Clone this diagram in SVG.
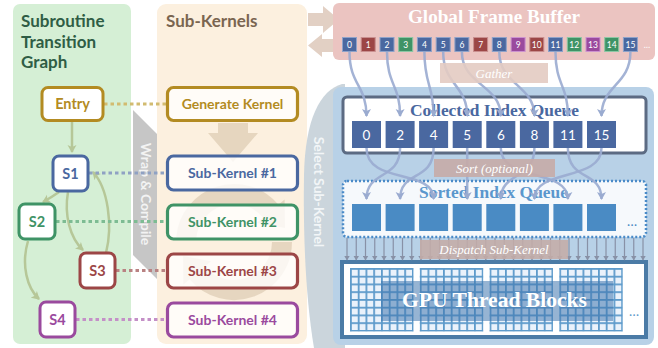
<svg xmlns="http://www.w3.org/2000/svg" width="658" height="348" viewBox="0 0 658 348">
  <defs>
    <style>
      .sans { font-family: Lato, "Open Sans", "Liberation Sans", sans-serif; font-weight: bold; }
      .serif { font-family: "Liberation Serif", "DejaVu Serif", serif; font-weight: bold; }
      .ital { font-family: "Liberation Serif", "DejaVu Serif", serif; font-style: italic; fill: #ffffff; font-size: 13px; text-anchor: middle; }
      .node rect { fill: #ffffff; stroke-width: 3; }
      .node text { font-size: 14.5px; text-anchor: middle; }
      .kern rect { fill: #ffffff; fill-opacity: 0.78; stroke-width: 3.2; }
      .kern text { font-size: 14px; text-anchor: middle; }
      .blue rect { stroke: #4a68a0; } .blue text { fill: #4a68a0; }
      .green rect { stroke: #3f9366; } .green text { fill: #3f9366; }
      .red rect { stroke: #9c4646; } .red text { fill: #9c4646; }
      .purple rect { stroke: #9a4a9e; } .purple text { fill: #9a4a9e; }
      .gold rect { stroke: #b38b22; } .gold text { fill: #b38b22; }
      .edge { fill: none; stroke: #b6c798; stroke-width: 2.5; marker-end: url(#ahG); }
      .dot { stroke-width: 3; stroke-dasharray: 3.5 3; fill: none; }
      .fb rect { stroke-width: 1; }
      .fb text { font-family: Lato, "Liberation Sans", sans-serif; font-size: 8.5px; fill: #ffffff; text-anchor: middle; }
      .fbB { fill: #4a68a0; stroke: #8ea2c9; }
      .fbR { fill: #9c4646; stroke: #c98f8f; }
      .fbG { fill: #3f9366; stroke: #8cc7a4; }
      .fbP { fill: #9a4a9e; stroke: #cc92cf; }
      .cq rect { fill: #4a68a0; }
      .cq text { font-family: Lato, "Liberation Sans", sans-serif; font-size: 13.5px; fill: #ffffff; text-anchor: middle; }
      .sq rect { fill: #4a8bc4; }
      .gat { fill: none; stroke: #9aabd0; stroke-width: 2.5; stroke-opacity: 0.9; marker-end: url(#ahB); }
      .disp { stroke: #8891a6; stroke-width: 1.2; marker-end: url(#ahD); }
    </style>
    <marker id="ahG" markerUnits="userSpaceOnUse" markerWidth="10" markerHeight="10" refX="7" refY="5" orient="auto">
      <path d="M0,0.5 L8,5 L0,9.5 L2,5 Z" fill="#b6c798"/>
    </marker>
    <marker id="ahB" markerUnits="userSpaceOnUse" markerWidth="10" markerHeight="10" refX="7" refY="5" orient="auto">
      <path d="M0,0.5 L8,5 L0,9.5 L2,5 Z" fill="#9aabd0"/>
    </marker>
    <marker id="ahD" markerUnits="userSpaceOnUse" markerWidth="6" markerHeight="6" refX="4.5" refY="3" orient="auto">
      <path d="M0,0 L5,3 L0,6 Z" fill="#8891a6"/>
    </marker>
    <pattern id="grid" patternUnits="userSpaceOnUse" x="350" y="268" width="7.75" height="7.75">
      <rect width="7.75" height="7.75" fill="#5e9bcb"/>
      <rect x="1.8" y="1.8" width="5.95" height="5.95" fill="#eaf2fb"/>
    </pattern>
  </defs>

  <!-- background panels -->
  <rect x="13" y="4" width="118" height="340" rx="7" fill="#d5efd5"/>
  <g id="wrap-compile">
    <polygon points="133,110 165,142 197,110 197,255 165,287 133,255" fill="#c6c6c6"/>
    <text class="sans" transform="translate(141,194) rotate(90)" text-anchor="middle" font-size="14" fill="#f3f3f3">Wrap &amp; Compile</text>
  </g>
  <rect x="157" y="4" width="150" height="340" rx="9" fill="#fcf0df"/>
  <g id="select-sub-kernel">
    <path d="M342,84 C320,90 305,120 304,175 C303,240 306,300 314,348 L345,348 L345,84 Z" fill="#cbd5dc"/>
    <text class="sans" transform="translate(314,192) rotate(90)" text-anchor="middle" font-size="14" fill="#f2f5f7">Select Sub-Kernel</text>
  </g>

  <!-- panel titles -->
  <text class="sans" x="21" y="27" font-size="17" fill="#2f5d45">Subroutine</text>
  <text class="sans" x="21" y="48" font-size="17" fill="#2f5d45">Transition</text>
  <text class="sans" x="21" y="68" font-size="17" fill="#2f5d45">Graph</text>
  <text class="sans" x="166" y="27" font-size="17" fill="#7a6550">Sub-Kernels</text>

  <!-- transfer arrows to and from the frame buffer -->
  <polygon points="308,13 323,13 323,6 339,19.5 323,33 323,26 308,26" fill="#e2d0c4"/>
  <polygon points="308,45.5 322,34 322,39 336,39 336,52 322,52 322,57" fill="#e2d0c4"/>

  <!-- kernel generation and cycling -->
  <polygon points="218,123 248,123 248,133 258,133 233,162 208,133 218,133" fill="#e6d6bf"/>
  <g id="cycle" fill="#e3d3bc" fill-opacity="0.9">
    <path d="M186.2,237.8 A48,48 0 0 1 270.8,211.2" fill="none" stroke="#e3d3bc" stroke-opacity="0.9" stroke-width="20"/>
    <polygon points="284.6,199.6 285,228.1 257,222.8"/>
    <path d="M282,242 A48,48 0 0 1 197.2,272.9" fill="none" stroke="#e3d3bc" stroke-opacity="0.9" stroke-width="20"/>
    <polygon points="183.4,284.5 183.1,256 211,261.3"/>
  </g>

  <!-- global frame buffer -->
  <g id="frame-buffer">
    <rect x="333" y="3" width="322" height="57" rx="6" fill="#ebc4c1"/>
    <text class="serif" x="494" y="23" font-size="18" fill="#ffffff" text-anchor="middle" textLength="172" lengthAdjust="spacingAndGlyphs">Global Frame Buffer</text>
    <g class="fb">
      <rect class="fbB" x="342.5" y="37.5" width="14" height="14"/><text x="349.5" y="48">0</text>
      <rect class="fbR" x="361.2" y="37.5" width="14" height="14"/><text x="368.2" y="48">1</text>
      <rect class="fbB" x="380" y="37.5" width="14" height="14"/><text x="387" y="48">2</text>
      <rect class="fbG" x="398.7" y="37.5" width="14" height="14"/><text x="405.7" y="48">3</text>
      <rect class="fbB" x="417.4" y="37.5" width="14" height="14"/><text x="424.4" y="48">4</text>
      <rect class="fbB" x="436.2" y="37.5" width="14" height="14"/><text x="443.2" y="48">5</text>
      <rect class="fbB" x="454.9" y="37.5" width="14" height="14"/><text x="461.9" y="48">6</text>
      <rect class="fbR" x="473.6" y="37.5" width="14" height="14"/><text x="480.6" y="48">7</text>
      <rect class="fbB" x="492.3" y="37.5" width="14" height="14"/><text x="499.3" y="48">8</text>
      <rect class="fbP" x="511.1" y="37.5" width="14" height="14"/><text x="518.1" y="48">9</text>
      <rect class="fbR" x="529.8" y="37.5" width="14" height="14"/><text x="536.8" y="48">10</text>
      <rect class="fbB" x="548.5" y="37.5" width="14" height="14"/><text x="555.5" y="48">11</text>
      <rect class="fbG" x="567.3" y="37.5" width="14" height="14"/><text x="574.3" y="48">12</text>
      <rect class="fbP" x="586" y="37.5" width="14" height="14"/><text x="593" y="48">13</text>
      <rect class="fbG" x="604.7" y="37.5" width="14" height="14"/><text x="611.7" y="48">14</text>
      <rect class="fbB" x="623.4" y="37.5" width="14" height="14"/><text x="630.4" y="48">15</text>
      <text x="647" y="48" font-size="11">…</text>
    </g>
  </g>

  <!-- execution panel -->
  <rect x="333" y="87" width="321" height="258" rx="8" fill="#b8d1e7"/>

  <g id="collected-queue">
    <rect x="343" y="97" width="303" height="56" rx="4" fill="#ffffff" stroke="#5c6b83" stroke-width="3"/>
    <text class="serif" x="494.5" y="116" font-size="16" fill="#4a68a0" text-anchor="middle" textLength="169" lengthAdjust="spacingAndGlyphs">Collected Index Queue</text>
    <g class="cq">
      <rect x="352" y="121" width="29" height="27"/><text x="366.5" y="139.5">0</text>
      <rect x="385.6" y="121" width="29" height="27"/><text x="400.1" y="139.5">2</text>
      <rect x="419.1" y="121" width="29" height="27"/><text x="433.6" y="139.5">4</text>
      <rect x="452.7" y="121" width="29" height="27"/><text x="467.2" y="139.5">5</text>
      <rect x="486.3" y="121" width="29" height="27"/><text x="500.8" y="139.5">6</text>
      <rect x="519.9" y="121" width="29" height="27"/><text x="534.4" y="139.5">8</text>
      <rect x="553.4" y="121" width="29" height="27"/><text x="567.9" y="139.5">11</text>
      <rect x="587" y="121" width="29" height="27"/><text x="601.5" y="139.5">15</text>
      <text x="632" y="143" fill="#4a68a0">…</text>
    </g>
  </g>

  <g id="sorted-queue">
    <rect x="343" y="181" width="303" height="56" rx="4" fill="#f6f9fc" stroke="#4a8bc8" stroke-width="2.5" stroke-dasharray="2 2"/>
    <text class="serif" x="493.5" y="198" font-size="16" fill="#5b97cd" text-anchor="middle" textLength="149" lengthAdjust="spacingAndGlyphs">Sorted Index Queue</text>
    <g class="sq">
      <rect x="352" y="204" width="29" height="27"/>
      <rect x="385.6" y="204" width="29" height="27"/>
      <rect x="419.1" y="204" width="29" height="27"/>
      <rect x="452.7" y="204" width="29" height="27"/>
      <rect x="486.3" y="204" width="29" height="27"/>
      <rect x="519.9" y="204" width="29" height="27"/>
      <rect x="553.4" y="204" width="29" height="27"/>
      <rect x="587" y="204" width="29" height="27"/>
    </g>
    <text x="632" y="226" font-family="Lato, 'Liberation Sans', sans-serif" font-size="13.5" fill="#4a8bc4" text-anchor="middle">…</text>
  </g>

  <g id="thread-blocks">
    <rect x="342" y="262" width="304" height="75" fill="#ffffff" stroke="#4b7ba6" stroke-width="4"/>
    <rect x="350" y="268" width="63.5" height="63.5" fill="url(#grid)"/>
    <rect x="419.75" y="268" width="63.5" height="63.5" fill="url(#grid)"/>
    <rect x="489.5" y="268" width="63.5" height="63.5" fill="url(#grid)"/>
    <rect x="559.25" y="268" width="63.5" height="63.5" fill="url(#grid)"/>
    <rect x="381" y="281" width="232" height="40" fill="#3f77ae" fill-opacity="0.55"/>
    <text class="serif" x="494.5" y="307" font-size="22" fill="#ffffff" text-anchor="middle" textLength="185" lengthAdjust="spacingAndGlyphs">GPU Thread Blocks</text>
    <text x="634" y="316" font-family="Lato, 'Liberation Sans', sans-serif" font-size="13.5" fill="#5e9bcb" text-anchor="middle">…</text>
  </g>

  <!-- connectors -->
  <g id="connectors">
    <!-- gather from the frame buffer -->
    <path class="gat" d="M349.5,52 C349.5,85 366.5,85 366.5,116"/>
    <path class="gat" d="M387,52 C387,85 400.1,85 400.1,116"/>
    <path class="gat" d="M424.4,52 C424.4,85 433.6,85 433.6,116"/>
    <path class="gat" d="M443.2,52 C443.2,85 467.2,85 467.2,116"/>
    <path class="gat" d="M461.9,52 C461.9,85 500.8,85 500.8,116"/>
    <path class="gat" d="M499.3,52 C499.3,85 534.4,85 534.4,116"/>
    <path class="gat" d="M555.5,52 C555.5,85 567.9,85 567.9,116"/>
    <path class="gat" d="M630.4,52 C630.4,85 601.5,85 601.5,116"/>
    <!-- sort into the second queue -->
    <path class="gat" d="M366.5,148 C366.5,185 433.6,168 433.6,199"/>
    <path class="gat" d="M400.1,148 C400.1,180 366.5,170 366.5,199"/>
    <path class="gat" d="M433.6,148 C433.6,182 400.1,170 400.1,199"/>
    <path class="gat" d="M467.2,148 C467.2,180 467.2,172 467.2,199"/>
    <path class="gat" d="M500.8,148 C500.8,182 567.9,168 567.9,199"/>
    <path class="gat" d="M534.4,148 C534.4,180 500.8,172 500.8,199"/>
    <path class="gat" d="M567.9,148 C567.9,182 601.5,170 601.5,199"/>
    <path class="gat" d="M601.5,148 C601.5,182 534.4,168 534.4,199"/>
    <!-- dispatch to thread blocks -->
    <g class="disp">
      <line x1="347" y1="238" x2="347" y2="260"/><line x1="356.25" y1="238" x2="356.25" y2="260"/>
      <line x1="365.5" y1="238" x2="365.5" y2="260"/><line x1="374.75" y1="238" x2="374.75" y2="260"/>
      <line x1="384" y1="238" x2="384" y2="260"/><line x1="393.25" y1="238" x2="393.25" y2="260"/>
      <line x1="402.5" y1="238" x2="402.5" y2="260"/><line x1="411.75" y1="238" x2="411.75" y2="260"/>
      <line x1="421" y1="238" x2="421" y2="260"/><line x1="430.25" y1="238" x2="430.25" y2="260"/>
      <line x1="439.5" y1="238" x2="439.5" y2="260"/><line x1="448.75" y1="238" x2="448.75" y2="260"/>
      <line x1="458" y1="238" x2="458" y2="260"/><line x1="467.25" y1="238" x2="467.25" y2="260"/>
      <line x1="476.5" y1="238" x2="476.5" y2="260"/><line x1="485.75" y1="238" x2="485.75" y2="260"/>
      <line x1="495" y1="238" x2="495" y2="260"/><line x1="504.25" y1="238" x2="504.25" y2="260"/>
      <line x1="513.5" y1="238" x2="513.5" y2="260"/><line x1="522.75" y1="238" x2="522.75" y2="260"/>
      <line x1="532" y1="238" x2="532" y2="260"/><line x1="541.25" y1="238" x2="541.25" y2="260"/>
      <line x1="550.5" y1="238" x2="550.5" y2="260"/><line x1="559.75" y1="238" x2="559.75" y2="260"/>
      <line x1="569" y1="238" x2="569" y2="260"/><line x1="578.25" y1="238" x2="578.25" y2="260"/>
      <line x1="587.5" y1="238" x2="587.5" y2="260"/><line x1="596.75" y1="238" x2="596.75" y2="260"/>
      <line x1="606" y1="238" x2="606" y2="260"/><line x1="615.25" y1="238" x2="615.25" y2="260"/>
      <line x1="624.5" y1="238" x2="624.5" y2="260"/><line x1="633.75" y1="238" x2="633.75" y2="260"/>
      <line x1="643" y1="238" x2="643" y2="260"/>
    </g>
    <!-- transition graph edges -->
    <path class="edge" d="M72,121 L72,152"/>
    <path class="edge" d="M59,192 Q52,197 43,202"/>
    <path class="edge" d="M68,192 C64,215 70,238 83,250"/>
    <path class="edge" d="M106,253 C113,225 108,188 93,172"/>
    <path class="edge" d="M28,241 C21,265 27,288 39,299"/>
    <!-- state to kernel links -->
    <line class="dot" x1="104" y1="104" x2="166" y2="104" stroke="#d2bb70"/>
    <line class="dot" x1="89" y1="173" x2="166" y2="173" stroke="#8fa1c3"/>
    <line class="dot" x1="56" y1="221.5" x2="166" y2="221.5" stroke="#7dbc93"/>
    <line class="dot" x1="116" y1="270.5" x2="166" y2="270.5" stroke="#b98282"/>
    <line class="dot" x1="76" y1="319.5" x2="166" y2="319.5" stroke="#c490c7"/>
  </g>

  <!-- step labels -->
  <rect x="440" y="63" width="108" height="20" fill="#e3cbc2" fill-opacity="0.9"/>
  <text class="ital" x="494" y="78">Gather</text>
  <rect x="434" y="159" width="121" height="18" fill="#c7aba7" fill-opacity="0.9"/>
  <text class="ital" x="494.5" y="173">Sort (optional)</text>
  <rect x="420" y="240" width="148" height="19" fill="#c4aca7" fill-opacity="0.88"/>
  <text class="ital" x="494" y="254">Dispatch Sub-Kernel</text>

  <!-- graph nodes -->
  <g id="entry" class="node gold sans"><rect x="42" y="87.5" width="61" height="33" rx="6"/><text x="72.5" y="109">Entry</text></g>
  <g id="s1" class="node blue sans"><rect x="53" y="156" width="35" height="35" rx="6"/><text x="70.5" y="178.5">S1</text></g>
  <g id="s2" class="node green sans"><rect x="19" y="204" width="36" height="35" rx="6"/><text x="37" y="226.5">S2</text></g>
  <g id="s3" class="node red sans"><rect x="80" y="253" width="35" height="35" rx="6"/><text x="97.5" y="275.5">S3</text></g>
  <g id="s4" class="node purple sans"><rect x="40" y="302" width="35" height="35" rx="6"/><text x="57.5" y="324.5">S4</text></g>

  <!-- kernel nodes -->
  <g id="generate-kernel" class="kern gold sans"><rect x="167.5" y="87.5" width="130" height="33" rx="6" fill-opacity="1"/><text x="232.5" y="109">Generate Kernel</text></g>
  <g id="sub-kernel-1" class="kern blue sans"><rect x="167.5" y="156" width="130" height="34" rx="6"/><text x="232.5" y="178">Sub-Kernel #1</text></g>
  <g id="sub-kernel-2" class="kern green sans"><rect x="167.5" y="205" width="130" height="34" rx="6"/><text x="232.5" y="227">Sub-Kernel #2</text></g>
  <g id="sub-kernel-3" class="kern red sans"><rect x="167.5" y="254" width="130" height="34" rx="6"/><text x="232.5" y="276">Sub-Kernel #3</text></g>
  <g id="sub-kernel-4" class="kern purple sans"><rect x="167.5" y="303" width="130" height="34" rx="6"/><text x="232.5" y="325">Sub-Kernel #4</text></g>
</svg>
